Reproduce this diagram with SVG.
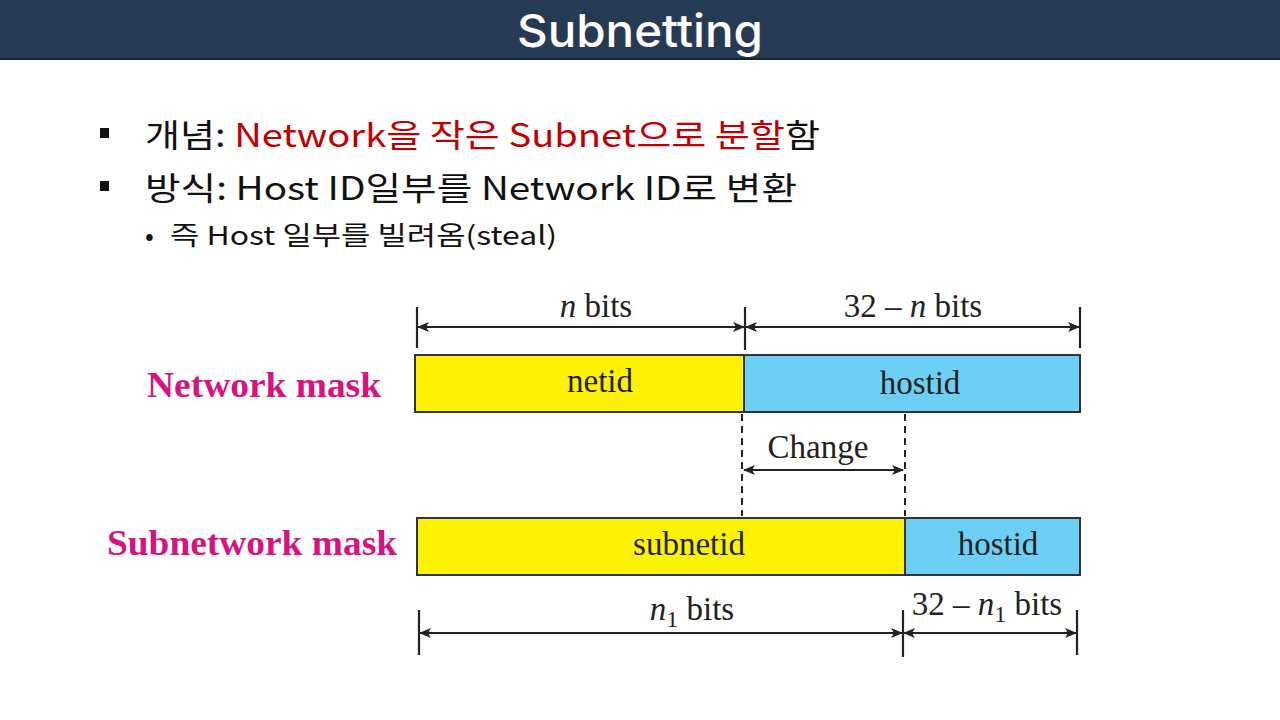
<svg xmlns="http://www.w3.org/2000/svg" width="1280" height="720" viewBox="0 0 1280 720">
<style>
.kr{font-family:"Noto Sans CJK KR","Noto Sans",sans-serif;fill:#111}
.red{fill:#c00000}
.tm{font-family:"Liberation Serif","Times New Roman",serif;font-size:33px;fill:#222}
.lbl{font-family:"Liberation Serif","Times New Roman",serif;font-size:35px;font-weight:bold;fill:#d6137f}
.ln{stroke:#222;stroke-width:2.2;fill:none}
.dash{stroke:#222;stroke-width:2;stroke-dasharray:7,5;fill:none}
.box{stroke:#333;stroke-width:2}
</style>
<defs>
<marker id="ah" markerWidth="12" markerHeight="10" refX="11" refY="5" orient="auto-start-reverse" markerUnits="userSpaceOnUse">
<path d="M0,0 L12,5 L0,10 L3,5 Z" fill="#222"/>
</marker>
</defs>
<g id="header">
<rect x="0" y="0" width="1280" height="59" fill="#263b53"/>
<rect x="0" y="58" width="1280" height="2" fill="#0f2530"/>
<text x="640" y="47" text-anchor="middle" font-family="Inter,'Noto Sans',sans-serif" font-size="45" font-weight="500" fill="#fff" textLength="246" lengthAdjust="spacingAndGlyphs">Subnetting</text>
</g>
<g id="bullets">
<rect x="100" y="128" width="9" height="10" fill="#111"/>
<rect x="100" y="181" width="9" height="10" fill="#111"/>
<text class="kr" x="145" y="147" font-size="32" textLength="675" lengthAdjust="spacingAndGlyphs">개념: <tspan class="red">Network을 작은 Subnet으로 분할</tspan>함</text>
<text class="kr" x="145" y="200" font-size="32" textLength="652" lengthAdjust="spacingAndGlyphs">방식: Host ID일부를 Network ID로 변환</text>
<text class="kr" x="145" y="245" font-size="26">•</text>
<text class="kr" x="170" y="245" font-size="26" textLength="387" lengthAdjust="spacingAndGlyphs">즉 Host 일부를 빌려옴(steal)</text>
</g>
<g id="network-mask">
<text class="lbl" x="381" y="397" text-anchor="end" textLength="234" lengthAdjust="spacingAndGlyphs">Network mask</text>
<rect class="box" x="415" y="355" width="329" height="57" fill="#fff200"/>
<rect class="box" x="744" y="355" width="336" height="57" fill="#6dcff6"/>
<text class="tm" x="600" y="392" text-anchor="middle">netid</text>
<text class="tm" x="920" y="394" text-anchor="middle">hostid</text>
</g>
<g id="subnetwork-mask">
<text class="lbl" x="397" y="555" text-anchor="end" textLength="290" lengthAdjust="spacingAndGlyphs">Subnetwork mask</text>
<rect class="box" x="417" y="518" width="488" height="57" fill="#fff200"/>
<rect class="box" x="905" y="518" width="175" height="57" fill="#6dcff6"/>
<text class="tm" x="689" y="555" text-anchor="middle">subnetid</text>
<text class="tm" x="998" y="555" text-anchor="middle">hostid</text>
</g>
<g id="connectors">
<line class="ln" x1="417" y1="307" x2="417" y2="348"/>
<line class="ln" x1="745" y1="307" x2="745" y2="350"/>
<line class="ln" x1="1080" y1="307" x2="1080" y2="348"/>
<line class="ln" x1="418" y1="327" x2="744" y2="327" marker-start="url(#ah)" marker-end="url(#ah)"/>
<line class="ln" x1="746" y1="327" x2="1079" y2="327" marker-start="url(#ah)" marker-end="url(#ah)"/>
<line class="dash" x1="742" y1="414" x2="742" y2="516"/>
<line class="dash" x1="905" y1="414" x2="905" y2="516"/>
<line class="ln" x1="744" y1="470" x2="903" y2="470" marker-start="url(#ah)" marker-end="url(#ah)"/>
<line class="ln" x1="419" y1="610" x2="419" y2="655"/>
<line class="ln" x1="903" y1="610" x2="903" y2="657"/>
<line class="ln" x1="1077" y1="610" x2="1077" y2="655"/>
<line class="ln" x1="420" y1="633" x2="902" y2="633" marker-start="url(#ah)" marker-end="url(#ah)"/>
<line class="ln" x1="904" y1="633" x2="1076" y2="633" marker-start="url(#ah)" marker-end="url(#ah)"/>
</g>
<g id="labels">
<text class="tm" x="596" y="317" text-anchor="middle"><tspan font-style="italic">n</tspan> bits</text>
<text class="tm" x="913" y="317" text-anchor="middle">32 – <tspan font-style="italic">n</tspan> bits</text>
<text class="tm" x="818" y="458" text-anchor="middle">Change</text>
<text class="tm" x="692" y="620" text-anchor="middle"><tspan font-style="italic">n</tspan><tspan font-size="24" dy="7">1</tspan><tspan dy="-7"> bits</tspan></text>
<text class="tm" x="987" y="615" text-anchor="middle">32 – <tspan font-style="italic">n</tspan><tspan font-size="24" dy="7">1</tspan><tspan dy="-7"> bits</tspan></text>
</g>
</svg>
